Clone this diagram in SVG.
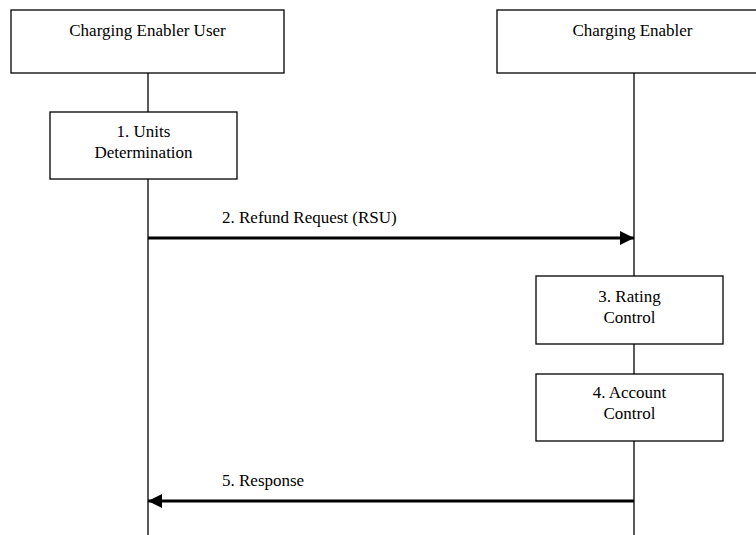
<svg xmlns="http://www.w3.org/2000/svg" width="756" height="535" viewBox="0 0 756 535">
<style>
.box{fill:#fff;stroke:#000;stroke-width:1.3}
.life{stroke:#000;stroke-width:1.3;fill:none}
.msg{stroke:#000;stroke-width:3;fill:none}
text{font-family:'Liberation Serif','DejaVu Serif',serif;font-size:17px;fill:#000}
.t{text-anchor:middle}
</style>
<defs>
<marker id="ah" viewBox="0 0 14 14" refX="14" refY="7" markerWidth="14" markerHeight="14" markerUnits="userSpaceOnUse" orient="auto">
<path d="M0,0 L14,7 L0,14 Z" fill="#000"/>
</marker>
</defs>
<rect width="756" height="535" fill="#fff"/>
<g id="lifelines">
<line class="life" x1="148" y1="73" x2="148" y2="535"/>
<line class="life" x1="634" y1="73" x2="634" y2="535"/>
</g>
<g id="user">
<rect class="box" x="11" y="10" width="273" height="63"/>
<text class="t" x="147.5" y="36" font-family="Liberation Serif, serif">Charging Enabler User</text>
</g>
<g id="enabler">
<rect class="box" x="497" y="10" width="275" height="63"/>
<text class="t" x="632.5" y="36" font-family="Liberation Serif, serif">Charging Enabler</text>
</g>
<g id="units">
<rect class="box" x="50" y="112" width="187" height="67"/>
<text class="t" x="143.5" y="137" font-family="Liberation Serif, serif">1. Units</text>
<text class="t" x="143.5" y="158" font-family="Liberation Serif, serif">Determination</text>
</g>
<g id="rating">
<rect class="box" x="536" y="276" width="187" height="68"/>
<text class="t" x="629.5" y="302" font-family="Liberation Serif, serif">3. Rating</text>
<text class="t" x="629.5" y="323" font-family="Liberation Serif, serif">Control</text>
</g>
<g id="account">
<rect class="box" x="536" y="374" width="187" height="67"/>
<text class="t" x="629.5" y="398" font-family="Liberation Serif, serif">4. Account</text>
<text class="t" x="629.5" y="419" font-family="Liberation Serif, serif">Control</text>
</g>
<g id="connectors">
<line class="msg" x1="148" y1="238" x2="634" y2="238" marker-end="url(#ah)"/>
<text x="222" y="223" font-family="Liberation Serif, serif">2. Refund Request (RSU)</text>
<line class="msg" x1="634" y1="501" x2="148" y2="501" marker-end="url(#ah)"/>
<text x="222" y="486" font-family="Liberation Serif, serif">5. Response</text>
</g>
</svg>
